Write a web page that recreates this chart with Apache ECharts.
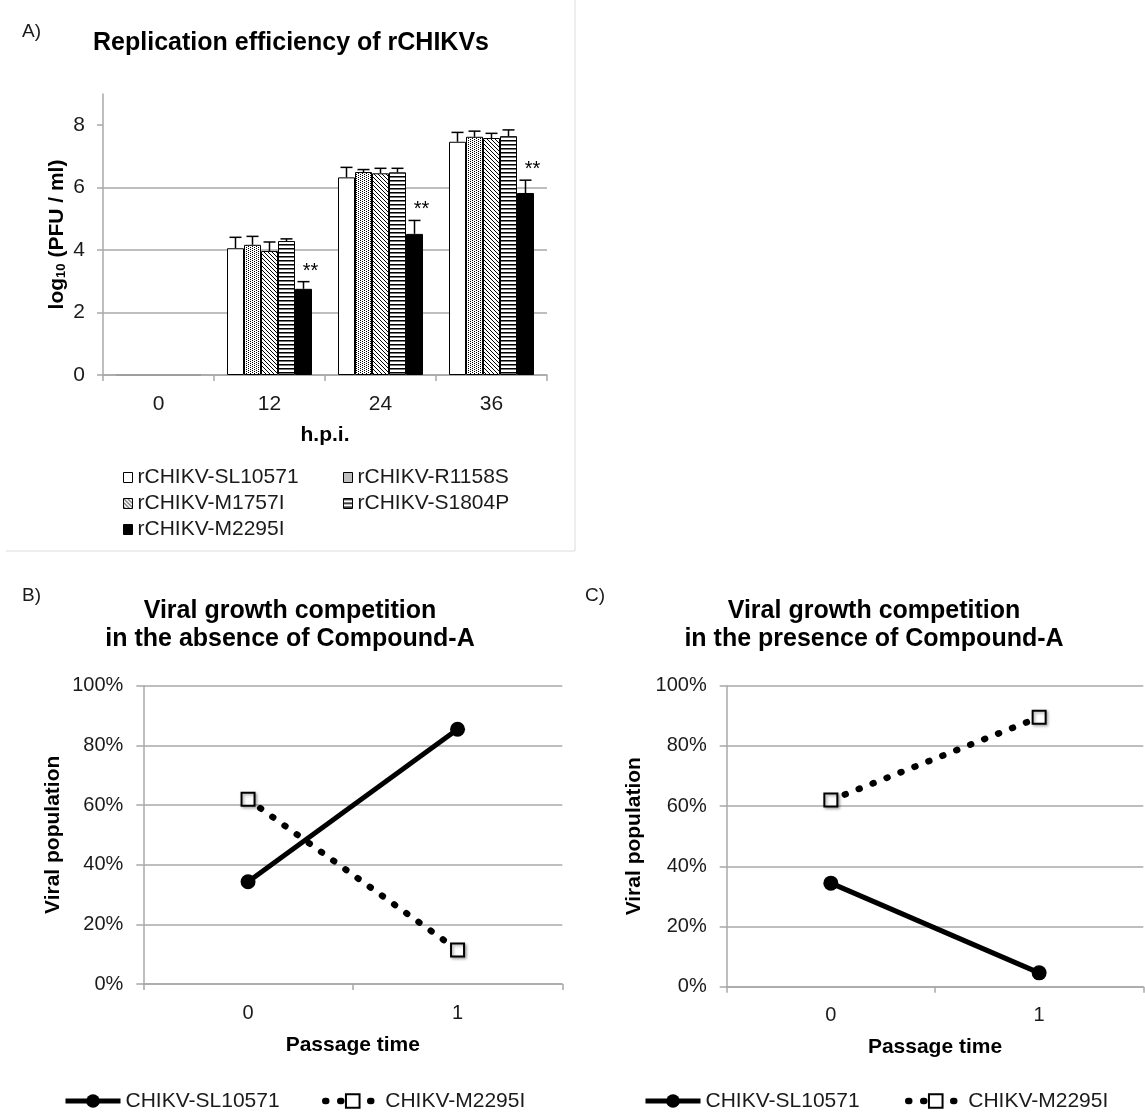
<!DOCTYPE html>
<html>
<head>
<meta charset="utf-8">
<script src="https://cdn.jsdelivr.net/npm/echarts@6/dist/echarts.min.js"></script>
<style>
html,body{margin:0;padding:0;background:#fff;}
#chart{width:1145px;height:1114px;}
</style>
</head>
<body>
<div id="chart"></div>
<script>
// ---------- data ----------
const hpiCategories = ['0', '12', '24', '36'];
const strainNames = ['rCHIKV-SL10571', 'rCHIKV-R1158S', 'rCHIKV-M1757I', 'rCHIKV-S1804P', 'rCHIKV-M2295I'];
const titerSL10571 = [0, 4.06, 6.33, 7.47];
const titerR1158S  = [0, 4.17, 6.50, 7.63];
const titerM1757I  = [0, 3.97, 6.46, 7.59];
const titerS1804P  = [0, 4.29, 6.49, 7.65];
const titerM2295I  = [0, 2.76, 4.52, 5.83];
const errSL10571 = [0, 0.35, 0.32, 0.30];
const errR1158S  = [0, 0.27, 0.08, 0.18];
const errM1757I  = [0, 0.29, 0.16, 0.15];
const errS1804P  = [0, 0.07, 0.13, 0.20];
const errM2295I  = [0, 0.23, 0.43, 0.41];
const sigM2295I  = ['', '**', '**', '**'];
const yTicksA = [0, 2, 4, 6, 8];

const passageCategories = ['0', '1'];
const lineNames = ['CHIKV-SL10571', 'CHIKV-M2295I'];
const absenceSL10571  = [34.3, 85.4];
const absenceM2295I   = [61.9, 11.4];
const presenceSL10571 = [34.4, 4.6];
const presenceM2295I  = [62.0, 89.5];

// ---------- styles ----------
const FONT = 'Liberation Sans, Arial, Helvetica, sans-serif';
const GRID_GRAY = '#a8a8a8';
const TXT = '#1a1a1a';
const BAR_W = 17;

function makePattern(w, h, draw) {
  const c = document.createElement('canvas');
  c.width = w; c.height = h;
  const g = c.getContext('2d');
  g.fillStyle = '#ffffff'; g.fillRect(0, 0, w, h);
  g.fillStyle = '#000000';
  draw(g);
  return { image: c, repeat: 'repeat' };
}
const fills = [
  '#ffffff',
  makePattern(4, 2, g => { g.fillRect(0, 0, 1, 1); g.fillRect(2, 1, 1, 1); }),
  makePattern(4, 4, g => { for (let i = 0; i < 4; i++) g.fillRect(i, i, 1, 1); }),
  makePattern(1, 4, g => { g.fillRect(0, 0, 1, 1); g.fillStyle = '#777'; g.fillRect(0, 1, 1, 1); }),
  '#000000'
];

const strainValues = [titerSL10571, titerR1158S, titerM1757I, titerS1804P, titerM2295I];
const strainErrors = [errSL10571, errR1158S, errM1757I, errS1804P, errM2295I];
const strainSig = [null, null, null, null, sigM2295I];

const errorData = [];
strainValues.forEach((vals, si) => {
  vals.forEach((v, ci) => {
    const e = strainErrors[si][ci];
    if (e > 0) errorData.push([ci, v, e, si, strainSig[si] ? strainSig[si][ci] : '']);
  });
});

const barSeries = strainNames.map((name, i) => ({
  type: 'bar', name: name, xAxisIndex: 0, yAxisIndex: 0,
  // zero-height bars only show a faint gray outline on the baseline
  data: strainValues[i].map(v => v === 0 ? { value: v, itemStyle: { borderColor: '#9a9a9a' } } : v),
  barWidth: BAR_W, barGap: '0%',
  itemStyle: { color: fills[i], borderColor: '#000', borderWidth: 1 },
  emphasis: { disabled: true }
}));

const errorSeries = {
  type: 'custom', xAxisIndex: 0, yAxisIndex: 0, z: 10,
  data: errorData, encode: { x: 0, y: 1 },
  renderItem: function (params, api) {
    const ci = api.value(0), v = api.value(1), e = api.value(2), si = api.value(3);
    const label = errorData[params.dataIndex][4];
    const base = api.coord([ci, v]);
    const top = api.coord([ci, v + e]);
    const x = base[0] + (si - 2) * BAR_W;
    const half = 6;
    const children = [
      { type: 'line', shape: { x1: x, y1: base[1], x2: x, y2: top[1] }, style: { stroke: '#000', lineWidth: 1.5 } },
      { type: 'line', shape: { x1: x - half, y1: top[1], x2: x + half, y2: top[1] }, style: { stroke: '#000', lineWidth: 1.5 } }
    ];
    if (label) {
      children.push({ type: 'text', x: x + 7, y: top[1] - 10.5,
        style: { text: label, fontSize: 20, fontFamily: FONT, fill: '#000', align: 'center', verticalAlign: 'middle' } });
    }
    return { type: 'group', children: children };
  }
};

function lineSeriesPair(axisIdx, solidData, dottedData) {
  return [
    { type: 'line', name: lineNames[0], xAxisIndex: axisIdx, yAxisIndex: axisIdx, data: solidData,
      symbol: 'circle', symbolSize: 15,
      lineStyle: { color: '#000', width: 5 },
      itemStyle: { color: '#000' }, emphasis: { disabled: true } },
    { type: 'line', name: lineNames[1], xAxisIndex: axisIdx, yAxisIndex: axisIdx, data: dottedData,
      symbol: 'rect', symbolSize: 13,
      lineStyle: { color: '#000', width: 6.5, type: [1, 14], cap: 'round' },
      itemStyle: { color: '#fff', borderColor: '#000', borderWidth: 2,
        shadowColor: 'rgba(0,0,0,0.35)', shadowBlur: 3, shadowOffsetX: 1.5, shadowOffsetY: 1.5 },
      emphasis: { disabled: true } }
  ];
}

function catAxis(gridIndex, data, name, nameGap, fontSize) {
  return {
    gridIndex: gridIndex, type: 'category', data: data,
    axisLine: { show: true, lineStyle: { color: GRID_GRAY, width: 1.5 } },
    axisTick: { show: true, length: 6, inside: false, lineStyle: { color: GRID_GRAY, width: 1.5 } },
    axisLabel: { margin: 19, fontSize: fontSize, color: TXT, fontFamily: FONT },
    splitLine: { show: false },
    name: name, nameLocation: 'middle', nameGap: nameGap,
    nameTextStyle: { fontSize: 21, fontWeight: 'bold', color: '#000', fontFamily: FONT }
  };
}

function pctAxis(gridIndex, nameGap) {
  return {
    gridIndex: gridIndex, type: 'value', min: 0, max: 100, interval: 20,
    axisLine: { show: true, lineStyle: { color: GRID_GRAY, width: 1.5 } },
    axisTick: { show: true, length: 7, inside: false, lineStyle: { color: GRID_GRAY, width: 1.5 } },
    axisLabel: { margin: 20, fontSize: 20, color: TXT, fontFamily: FONT, formatter: '{value}%' },
    splitLine: { show: true, lineStyle: { color: GRID_GRAY, width: 1.5 } },
    name: 'Viral population', nameLocation: 'middle', nameGap: nameGap,
    nameTextStyle: { fontSize: 21, fontWeight: 'bold', color: '#000', fontFamily: FONT }
  };
}

const legendBase = {
  orient: 'horizontal', padding: 0, selectedMode: false,
  textStyle: { fontSize: 21, color: TXT, fontFamily: FONT }
};
const barLegendPos = [[123, 467], [343, 467], [123, 493], [343, 493], [123, 519]];
const barLegends = strainNames.map((n, i) => Object.assign({}, legendBase, {
  data: [n], left: barLegendPos[i][0], top: barLegendPos[i][1],
  icon: 'rect', itemWidth: 9, itemHeight: 10,
  itemStyle: { borderColor: '#000', borderWidth: 1 }
}));
const lineLegendPos = [[63, 1090.5, 0], [322, 1090.5, 1], [643, 1090.5, 0], [905, 1090.5, 1]];
const lineLegends = lineLegendPos.map(p => Object.assign({}, legendBase, {
  data: [lineNames[p[2]]], left: p[0], top: p[1],
  itemWidth: 55, itemHeight: 17,
  lineStyle: { width: p[2] === 0 ? 5 : 6.5 }
}));

const option = {
  animation: false,
  backgroundColor: '#ffffff',
  textStyle: { fontFamily: FONT },
  title: [
    { text: 'A)', left: 22, top: 22, padding: 0, textStyle: { fontSize: 19, fontWeight: 'normal', color: TXT, fontFamily: FONT } },
    { text: 'B)', left: 22, top: 586, padding: 0, textStyle: { fontSize: 19, fontWeight: 'normal', color: TXT, fontFamily: FONT } },
    { text: 'C)', left: 585, top: 586, padding: 0, textStyle: { fontSize: 19, fontWeight: 'normal', color: TXT, fontFamily: FONT } },
    { text: 'Replication efficiency of rCHIKVs', left: 291, top: 31, padding: 0, textAlign: 'center', textVerticalAlign: 'top',
      textStyle: { fontSize: 25, fontWeight: 'bold', lineHeight: 25, color: '#000', fontFamily: FONT } },
    { text: 'Viral growth competition\nin the absence of Compound-A', left: 290, top: 597, padding: 0, textAlign: 'center', textVerticalAlign: 'top',
      textStyle: { fontSize: 25, fontWeight: 'bold', lineHeight: 28, color: '#000', fontFamily: FONT } },
    { text: 'Viral growth competition\nin the presence of Compound-A', left: 874, top: 597, padding: 0, textAlign: 'center', textVerticalAlign: 'top',
      textStyle: { fontSize: 25, fontWeight: 'bold', lineHeight: 28, color: '#000', fontFamily: FONT } }
  ],
  legend: barLegends.concat(lineLegends),
  grid: [
    { left: 103, top: 94, width: 444, height: 281, containLabel: false, outerBoundsMode: 'none' },
    { left: 143.3, top: 685.7, width: 419, height: 298.3, containLabel: false, outerBoundsMode: 'none' },
    { left: 726.7, top: 685.7, width: 416.6, height: 301, containLabel: false, outerBoundsMode: 'none' }
  ],
  xAxis: [
    catAxis(0, hpiCategories, 'h.p.i.', 50, 21),
    catAxis(1, passageCategories, 'Passage time', 51, 20),
    catAxis(2, passageCategories, 'Passage time', 50, 20)
  ],
  yAxis: [
    {
      gridIndex: 0, type: 'value', min: 0, max: 9, interval: 2,
      axisLine: { show: true, lineStyle: { color: GRID_GRAY, width: 1.5 } },
      axisTick: { show: true, length: 6, inside: false, customValues: yTicksA, lineStyle: { color: GRID_GRAY, width: 1.5 } },
      axisLabel: { margin: 18, fontSize: 21, color: TXT, fontFamily: FONT, customValues: yTicksA,
        formatter: function (v) { return yTicksA.indexOf(v) >= 0 ? String(v) : ''; } },
      splitLine: { show: true, showMaxLine: false,
        lineStyle: { color: [GRID_GRAY, GRID_GRAY, GRID_GRAY, GRID_GRAY, GRID_GRAY, 'rgba(0,0,0,0)'], width: 1.5 } },
      name: '{a|log}{s|10}{a| (PFU / ml)}', nameLocation: 'middle', nameGap: 35.5,
      nameTextStyle: {
        color: '#000', fontFamily: FONT,
        rich: {
          a: { fontSize: 21, fontWeight: 'bold', lineHeight: 21, color: '#000', fontFamily: FONT },
          s: { fontSize: 13, fontWeight: 'bold', lineHeight: 9, verticalAlign: 'bottom', color: '#000', fontFamily: FONT }
        }
      }
    },
    pctAxis(1, 80),
    pctAxis(2, 82)
  ],
  graphic: [
    { type: 'line', silent: true, shape: { x1: 6, y1: 551, x2: 575, y2: 551 }, style: { stroke: '#dcdcdc', lineWidth: 1 } },
    { type: 'line', silent: true, shape: { x1: 575, y1: 0, x2: 575, y2: 551 }, style: { stroke: '#dcdcdc', lineWidth: 1 } }
  ],
  series: barSeries
    .concat([errorSeries])
    .concat(lineSeriesPair(1, absenceSL10571, absenceM2295I))
    .concat(lineSeriesPair(2, presenceSL10571, presenceM2295I))
};

const chart = echarts.init(document.getElementById('chart'), null, { renderer: 'canvas' });
chart.setOption(option);
</script>
</body>
</html>
